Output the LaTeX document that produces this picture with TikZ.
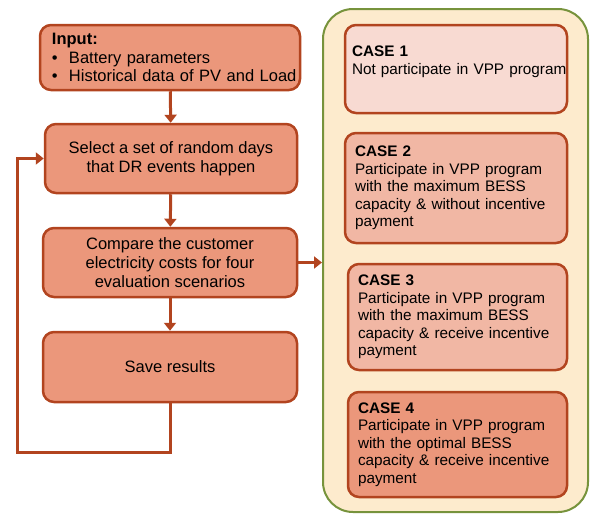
\documentclass[tikz,border=0pt]{standalone}
\usepackage{fontspec}
\setmainfont{Liberation Sans}
\usetikzlibrary{arrows.meta}
\definecolor{rust}{HTML}{B2441F}
\definecolor{salmon}{HTML}{EB977B}
\definecolor{salmon_light}{HTML}{F1B7A4}
\definecolor{salmon_pale}{HTML}{F8DAD2}
\definecolor{cream}{HTML}{FDEBCD}
\definecolor{olive}{HTML}{77933C}

\begin{document}
\begin{tikzpicture}[
		x=1pt, y=-1pt,
		every node/.style={rectangle, draw=rust, line width=2.5pt, rounded corners=11pt, inner sep=0pt},
		flow_box/.style={fill=salmon, align=center, font=\fontsize{16.5}{19}\selectfont},
		case_box/.style={minimum width=220pt, align=left, font=\fontsize{15.3}{17.5}\selectfont},
		flow/.style={draw=rust, line width=3pt, -{Triangle[length=8pt, width=12pt]}}
	]
  \useasboundingbox (0, 0) rectangle (590, 514);
  \node (input) [flow_box, minimum width=260pt, minimum height=65pt, align=left, text width=236pt] at (170, 57.5)
    {\textbf{Input:}\\[-0.5pt]\mbox{\makebox[17pt][l]{\textbullet}Battery parameters}\\[-0.5pt]\mbox{\makebox[17pt][l]{\textbullet}Historical data of PV and Load}};
  \node (select) [flow_box, minimum width=252pt, minimum height=69pt] at (171, 158.5) {Select a set of random days\\that DR events happen};
  \node (compare) [flow_box, minimum width=254pt, minimum height=69pt] at (170, 262.5) {Compare the customer\\electricity costs for four\\evaluation scenarios};
  \node (save) [flow_box, minimum width=254pt, minimum height=70pt] at (170, 367) {Save results};
  \node (panel) [draw=olive, line width=2pt, fill=cream, rounded corners=30pt, minimum width=265pt, minimum height=503pt] at (455.5, 260.5) {};
  \node (case_1) [case_box, fill=salmon_pale, minimum width=222pt, minimum height=88pt, text width=208pt] at (456, 69)
    {\textbf{CASE 1}\\\mbox{Not participate in VPP program}\\\mbox{}};
  \node (case_2) [case_box, fill=salmon_light, minimum width=222pt, minimum height=110pt, text width=202pt] at (456, 188)
    {\textbf{CASE 2}\\Participate in VPP program\\with the maximum BESS\\\mbox{capacity \& without incentive}\\payment};
  \node (case_3) [case_box, fill=salmon_light, minimum width=219pt, minimum height=106pt, text width=199pt] at (457.5, 317)
    {\textbf{CASE 3}\\Participate in VPP program\\with the maximum BESS\\\mbox{capacity \& receive incentive}\\payment};
  \node (case_4) [case_box, fill=salmon, minimum width=219pt, minimum height=105pt, text width=199pt] at (457.5, 444.5)
    {\textbf{CASE 4}\\Participate in VPP program\\with the optimal BESS\\\mbox{capacity \& receive incentive}\\payment};
  \coordinate (loop) at (17, 452);
  \draw (input) edge [flow] (select);
  \draw (select) edge [flow] (compare);
  \draw (compare) edge [flow] (save);
  \draw [flow] (compare.east) -- (compare.east -| panel.west);
  \draw [flow] (save.south) |- (loop) |- (select.west);
\end{tikzpicture}
\end{document}
